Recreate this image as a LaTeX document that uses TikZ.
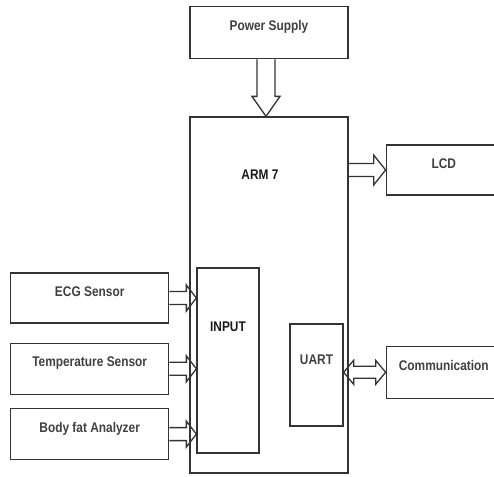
\documentclass[tikz,border=0pt]{standalone}
\usepackage{fontspec}
\newfontfamily\diafont[FakeStretch=0.85]{Liberation Sans}
\usetikzlibrary{positioning}
\usetikzlibrary{calc}

\begin{document}
\begin{tikzpicture}[
  x=1pt, y=1pt,
  shaft/.store in=\shaft, head/.store in=\head, tiplen/.store in=\tiplen,
  shaft=6.5pt, head=13pt, tiplen=10pt,
  box/.style={draw=black!80,line width=1.3pt,inner sep=0pt,text=black!75,font=\diafont\bfseries\fontsize{14}{16}\selectfont},
  dev/.style={box,minimum width=158pt,minimum height=51pt,text height=10pt,text depth=14pt},
  periph/.style={dev,minimum width=115pt},
  lbl/.style={inner sep=0pt,text=black!75,font=\diafont\bfseries\fontsize{14}{16}\selectfont},
  dark/.style={text=black!90},
  rarrow/.style={draw=black!80,line width=1.3pt,to path={let \p1=(\tikztostart), \p2=(\tikztotarget) in
    (\x1,\y1+\shaft) -- (\x2-\tiplen,\y1+\shaft) -- (\x2-\tiplen,\y1+\head) -- (\x2,\y1)
    -- (\x2-\tiplen,\y1-\head) -- (\x2-\tiplen,\y1-\shaft) -- (\x1,\y1-\shaft)}},
  barrow/.style={draw=black!80,line width=1.3pt,to path={let \p1=(\tikztostart), \p2=(\tikztotarget) in
    (\x1,\y1) -- (\x1+\tiplen,\y1+\head) -- (\x1+\tiplen,\y1+\shaft) -- (\x2-\tiplen,\y1+\shaft)
    -- (\x2-\tiplen,\y1+\head) -- (\x2,\y1) -- (\x2-\tiplen,\y1-\head) -- (\x2-\tiplen,\y1-\shaft)
    -- (\x1+\tiplen,\y1-\shaft) -- (\x1+\tiplen,\y1-\head) -- cycle}},
  darrow/.style={draw=black!80,line width=1.3pt,to path={let \p1=(\tikztostart), \p2=(\tikztotarget) in
    (\x1-\shaft,\y1) -- (\x1-\shaft,\y2+\tiplen) -- (\x1-\head,\y2+\tiplen) -- (\x1,\y2)
    -- (\x1+\head,\y2+\tiplen) -- (\x1+\shaft,\y2+\tiplen) -- (\x1+\shaft,\y1)}}]

  \useasboundingbox (0,0) rectangle (494,-476);

  % ARM block fixes the layout
  \node[box,minimum width=158pt,minimum height=356pt] (arm) at (269,-295) {};
  \node[dev,minimum height=52pt,above=57pt of arm] (power) {Power Supply};
  \node[periph,minimum height=50pt,below right=28pt and 37pt of arm.north east] (lcd) {LCD};
  \node[periph,minimum height=52pt,below=150pt of lcd] (comm) {Communication};

  % inner blocks
  \node[box,minimum width=62pt,minimum height=185pt,below right=151pt and 7pt of arm.north west] (input) {};
  \node[box,minimum width=53pt,minimum height=102pt,below left=207pt and 5pt of arm.north east] (uart) {};
  \node[lbl,dark,below=53pt of arm.north,xshift=-9pt] (armtxt) {ARM 7};
  \node[lbl,dark,below=54pt of input.north] (inputtxt) {INPUT};
  \node[lbl,below=31pt of uart.north] (uarttxt) {UART};

  % sensors on the left
  \node[dev,minimum height=50pt,below left=5pt and 27pt of input.north west] (ecg) {ECG Sensor};
  \node[dev,below=19pt of ecg] (temp) {Temperature Sensor};
  \node[dev,below=13pt of temp] (fat) {Body fat Analyzer};

  \draw[rarrow] (ecg.east) to (input.west);
  \draw[rarrow] (temp.east) to (input.west);
  \draw[rarrow] (fat.east) to (input.west);
  \draw[rarrow,head=15pt,tiplen=12pt] (lcd.west -| arm.east) to (lcd.west);
  \draw[barrow,shaft=6pt,head=12pt] (comm.west -| uart.east) to (comm.west);
  \draw[darrow,shaft=9pt,head=14pt,tiplen=20pt] ([xshift=-3pt]power.south) to ([xshift=-3pt]arm.north);
\end{tikzpicture}
\end{document}
